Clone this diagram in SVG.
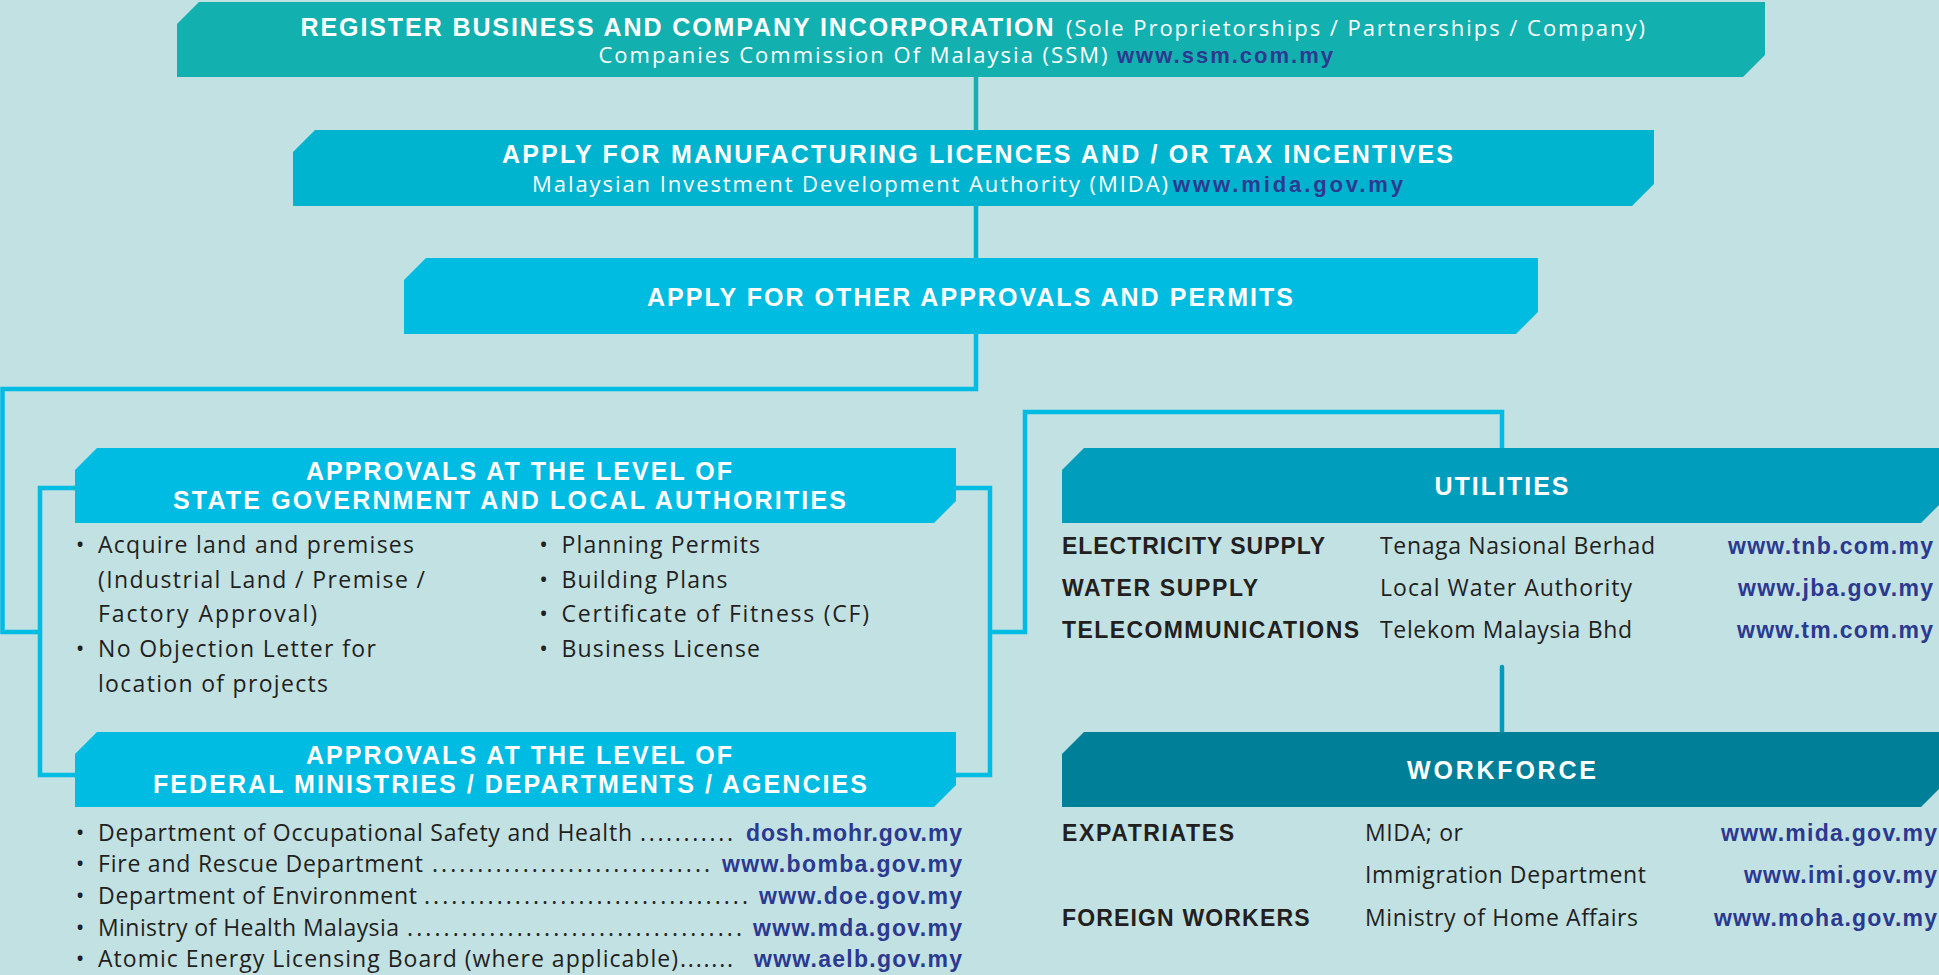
<svg xmlns="http://www.w3.org/2000/svg" width="1939" height="975" viewBox="0 0 1939 975">
<style>
text{font-family:"Open Sans","Liberation Sans",sans-serif;}
.hb{font-family:"Liberation Sans",Arial,sans-serif;font-weight:700;font-size:25px;fill:#ffffff;}
.hr{font-weight:400;font-size:22px;fill:#ffffff;}
.hu{font-family:"Liberation Sans",Arial,sans-serif;font-weight:700;font-size:22px;fill:#2b3990;}
.bd{font-weight:400;font-size:23px;fill:#231f20;}
.bb{font-family:"Liberation Sans",Arial,sans-serif;font-weight:700;font-size:23px;fill:#231f20;}
.ur{font-family:"Liberation Sans",Arial,sans-serif;font-weight:700;font-size:23px;fill:#2b3990;}
.bl{font-weight:400;font-size:23px;fill:#231f20;text-anchor:middle;}
.cn{fill:none;stroke-width:4.5;}
</style>
<rect x="0" y="0" width="1939" height="975" fill="#c2e1e3"/>

<g id="connectors">
  <path class="cn" d="M976,77 V130" stroke="#1aacb3"/>
  <path class="cn" d="M976,206 V258" stroke="#00b3cf"/>
  <path class="cn" d="M976,334 V389 H2.5 V632 H40" stroke="#00bce3"/>
  <path class="cn" d="M75,488 H40 V775 H75" stroke="#00bce3"/>
  <path class="cn" d="M956,488 H990 V775 H956" stroke="#00bce3"/>
  <path class="cn" d="M990,632 H1025 V412 H1502 V448" stroke="#00bce3"/>
  <path class="cn" d="M1502,667 V732" stroke="#009bbb" stroke-linecap="round"/>
</g>

<g id="register">
  <polygon points="177,24 199,2 1765,2 1765,55 1743,77 177,77" fill="#13b0b0"/>
  <text class="hb" x="300.5" y="36" font-size="24" textLength="753">REGISTER BUSINESS AND COMPANY INCORPORATION</text>
  <text class="hr" x="1066" y="36" textLength="579">(Sole Proprietorships / Partnerships / Company)</text>
  <text class="hr" x="598.5" y="63" textLength="509">Companies Commission Of Malaysia (SSM)</text>
  <text class="hu" x="1117" y="63" textLength="216">www.ssm.com.my</text>
</g>

<g id="manufacturing">
  <polygon points="293,152 315,130 1654,130 1654,184 1632,206 293,206" fill="#00b4cf"/>
  <text class="hb" x="502" y="163" font-size="24" textLength="951">APPLY FOR MANUFACTURING LICENCES AND / OR TAX INCENTIVES</text>
  <text class="hr" x="532" y="192" textLength="636">Malaysian Investment Development Authority (MIDA)</text>
  <text class="hu" x="1173" y="192" textLength="230">www.mida.gov.my</text>
</g>

<g id="other-approvals">
  <polygon points="404,280 426,258 1538,258 1538,312 1516,334 404,334" fill="#00bce0"/>
  <text class="hb" x="647" y="306" textLength="646">APPLY FOR OTHER APPROVALS AND PERMITS</text>
</g>

<g id="state">
  <polygon points="75,470 97,448 956,448 956,501 934,523 75,523" fill="#00bce2"/>
  <text class="hb" x="306" y="480" textLength="426">APPROVALS AT THE LEVEL OF</text>
  <text class="hb" x="173" y="509" textLength="673">STATE GOVERNMENT AND LOCAL AUTHORITIES</text>
  <text class="bl" x="80" y="553">•</text>
  <text class="bd" x="98" y="553" textLength="316">Acquire land and premises</text>
  <text class="bd" x="98" y="588" textLength="327">(Industrial Land / Premise /</text>
  <text class="bd" x="98" y="622" textLength="219">Factory Approval)</text>
  <text class="bl" x="80" y="657">•</text>
  <text class="bd" x="98" y="657" textLength="278">No Objection Letter for</text>
  <text class="bd" x="98" y="692" textLength="230">location of projects</text>
  <text class="bl" x="543.5" y="553">•</text>
  <text class="bd" x="561.5" y="553" textLength="198.5">Planning Permits</text>
  <text class="bl" x="543.5" y="588">•</text>
  <text class="bd" x="561.5" y="588" textLength="166">Building Plans</text>
  <text class="bl" x="543.5" y="622">•</text>
  <text class="bd" x="561.5" y="622" textLength="307.5">Certificate of Fitness (CF)</text>
  <text class="bl" x="543.5" y="657">•</text>
  <text class="bd" x="561.5" y="657" textLength="198.5">Business License</text>
</g>

<g id="federal">
  <polygon points="75,754 97,732 956,732 956,785 934,807 75,807" fill="#00bce2"/>
  <text class="hb" x="306" y="764" textLength="426">APPROVALS AT THE LEVEL OF</text>
  <text class="hb" x="153" y="793" textLength="714">FEDERAL MINISTRIES / DEPARTMENTS / AGENCIES</text>
  <text class="bl" x="80" y="841">•</text>
  <text class="bd" x="98" y="841" textLength="534">Department of Occupational Safety and Health</text>
  <text class="bd" x="640" y="841" textLength="93">...........</text>
  <text class="ur" x="746" y="841" textLength="216">dosh.mohr.gov.my</text>
  <text class="bl" x="80" y="872">•</text>
  <text class="bd" x="98" y="872" textLength="325">Fire and Rescue Department</text>
  <text class="bd" x="432" y="872" textLength="278">...............................</text>
  <text class="ur" x="722" y="872" textLength="240">www.bomba.gov.my</text>
  <text class="bl" x="80" y="904">•</text>
  <text class="bd" x="98" y="904" textLength="319">Department of Environment</text>
  <text class="bd" x="424" y="904" textLength="324">....................................</text>
  <text class="ur" x="759" y="904" textLength="203">www.doe.gov.my</text>
  <text class="bl" x="80" y="936">•</text>
  <text class="bd" x="98" y="936" textLength="301">Ministry of Health Malaysia</text>
  <text class="bd" x="407" y="936" textLength="335">.....................................</text>
  <text class="ur" x="753" y="936" textLength="209">www.mda.gov.my</text>
  <text class="bl" x="80" y="967">•</text>
  <text class="bd" x="98" y="967" textLength="580">Atomic Energy Licensing Board (where applicable)</text>
  <text class="bd" x="680" y="967" textLength="53">.......</text>
  <text class="ur" x="754" y="967" textLength="208">www.aelb.gov.my</text>
</g>

<g id="utilities">
  <polygon points="1062,470 1084,448 1940,448 1940,504 1921,523 1062,523" fill="#009dbd"/>
  <text class="hb" x="1434.5" y="495" textLength="134">UTILITIES</text>
  <text class="bb" x="1062" y="554" textLength="263">ELECTRICITY SUPPLY</text>
  <text class="bd" x="1380" y="554" textLength="275">Tenaga Nasional Berhad</text>
  <text class="ur" x="1728" y="554" textLength="205">www.tnb.com.my</text>
  <text class="bb" x="1062" y="596" textLength="196">WATER SUPPLY</text>
  <text class="bd" x="1380" y="596" textLength="252">Local Water Authority</text>
  <text class="ur" x="1738" y="596" textLength="195">www.jba.gov.my</text>
  <text class="bb" x="1062" y="638" textLength="297">TELECOMMUNICATIONS</text>
  <text class="bd" x="1380" y="638" textLength="252">Telekom Malaysia Bhd</text>
  <text class="ur" x="1737" y="638" textLength="196">www.tm.com.my</text>
</g>

<g id="workforce">
  <polygon points="1062,754 1084,732 1940,732 1940,788 1921,807 1062,807" fill="#007f99"/>
  <text class="hb" x="1407" y="779" textLength="189">WORKFORCE</text>
  <text class="bb" x="1062" y="841" textLength="172">EXPATRIATES</text>
  <text class="bd" x="1365" y="841" textLength="98">MIDA; or</text>
  <text class="ur" x="1721" y="841" textLength="216">www.mida.gov.my</text>
  <text class="bd" x="1365" y="883" textLength="281">Immigration Department</text>
  <text class="ur" x="1744" y="883" textLength="193">www.imi.gov.my</text>
  <text class="bb" x="1062" y="926" textLength="247.5">FOREIGN WORKERS</text>
  <text class="bd" x="1365" y="926" textLength="273">Ministry of Home Affairs</text>
  <text class="ur" x="1714" y="926" textLength="223">www.moha.gov.my</text>
</g>
</svg>
